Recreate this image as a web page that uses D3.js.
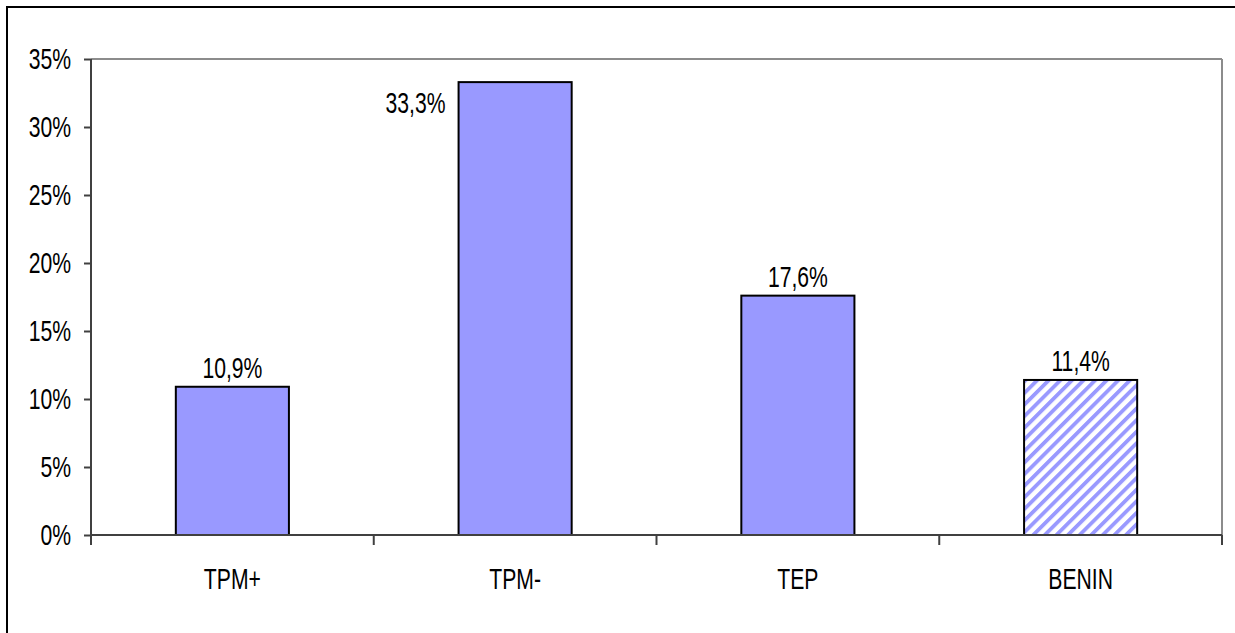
<!DOCTYPE html>
<html>
<head>
<meta charset="utf-8">
<script src="https://cdn.jsdelivr.net/npm/d3@7/dist/d3.min.js"></script>
<style>
  html, body { margin: 0; padding: 0; background: #fff; overflow: hidden; }
  svg text { font-family: "Liberation Sans", Arial, sans-serif; fill: #000; }
</style>
</head>
<body>
<svg id="chart" width="1235" height="633"></svg>
<script>
// Share of each group (percent)
const categories = ["TPM+", "TPM-", "TEP", "BENIN"];
const values = [10.9, 33.3, 17.6, 11.4];
const hatched = [false, false, false, true];
const yTicks = [0, 5, 10, 15, 20, 25, 30, 35];

const W = 1235, H = 633;
const margin = { left: 91, top: 59, right: 1222, bottom: 535 };
const FS = 29;        // label font size
const SX = 0.73;      // horizontal condensing of the labels

const svg = d3.select("#chart");

// outer frame (only left and top edges fall inside the canvas)
svg.append("rect")
  .attr("x", 7).attr("y", 7)
  .attr("width", W + 20).attr("height", H + 20)
  .attr("fill", "#fff").attr("stroke", "#000").attr("stroke-width", 2);

const x = d3.scaleBand().domain(categories)
  .range([margin.left, margin.right]).paddingInner(0.6).paddingOuter(0.3);
const xOuter = d3.scaleBand().domain(categories).range([margin.left, margin.right]);
const y = d3.scaleLinear().domain([0, 35]).range([margin.bottom, margin.top]);

const fmt = v => d3.format(".1f")(v).replace(".", ",") + "%";

// diagonal hatch pattern
const defs = svg.append("defs");
const pat = defs.append("pattern")
  .attr("id", "hatch").attr("patternUnits", "userSpaceOnUse")
  .attr("width", 8.2).attr("height", 8.2)
  .attr("patternTransform", "rotate(45)");
pat.append("rect").attr("width", 8.2).attr("height", 8.2).attr("fill", "#fff");
pat.append("rect").attr("x", 0).attr("width", 3.8).attr("height", 8.2).attr("fill", "#9999ff");

// plot frame lines (top and right)
svg.append("line")
  .attr("x1", margin.left).attr("x2", margin.right)
  .attr("y1", margin.top).attr("y2", margin.top)
  .attr("stroke", "#8c8c8c").attr("stroke-width", 2);
svg.append("line")
  .attr("x1", margin.right).attr("x2", margin.right)
  .attr("y1", margin.top).attr("y2", margin.bottom)
  .attr("stroke", "#8c8c8c").attr("stroke-width", 2);

// bars
svg.selectAll("rect.bar").data(categories).enter().append("rect")
  .attr("class", "bar")
  .attr("x", d => x(d))
  .attr("width", x.bandwidth())
  .attr("y", (d, i) => y(values[i]))
  .attr("height", (d, i) => y(0) - y(values[i]))
  .attr("fill", (d, i) => hatched[i] ? "url(#hatch)" : "#9999ff")
  .attr("stroke", "#000").attr("stroke-width", 2);

// y axis
const yAxis = svg.append("g")
  .attr("transform", `translate(${margin.left},0)`)
  .call(d3.axisLeft(y).tickValues(yTicks).tickSize(7).tickPadding(13)
    .tickFormat(d => d + "%"));
yAxis.select(".domain").attr("stroke", "#404040").attr("stroke-width", 2)
  .attr("d", `M0,${margin.top}V${margin.bottom + 10}`);
yAxis.selectAll(".tick line").attr("stroke", "#404040").attr("stroke-width", 2);
yAxis.selectAll(".tick text")
  .attr("font-size", FS)
  .attr("font-family", '"Liberation Sans", Arial, sans-serif')
  .attr("x", -20 / SX)
  .attr("dy", "0.34em")
  .attr("transform", `scale(${SX},1)`);

// x axis
const xAxis = svg.append("g")
  .attr("transform", `translate(0,${margin.bottom})`)
  .call(d3.axisBottom(xOuter).tickSize(0).tickPadding(33));
xAxis.select(".domain").attr("stroke", "#404040").attr("stroke-width", 2)
  .attr("d", `M${margin.left},0H${margin.right}`);
xAxis.selectAll(".tick text")
  .attr("font-size", FS)
  .attr("font-family", '"Liberation Sans", Arial, sans-serif')
  .attr("transform", `scale(${SX},1)`);
// category separators
svg.append("g").selectAll("line.sep").data(categories).enter().append("line")
  .attr("x1", d => xOuter(d) + xOuter.bandwidth())
  .attr("x2", d => xOuter(d) + xOuter.bandwidth())
  .attr("y1", margin.bottom).attr("y2", margin.bottom + 10)
  .attr("stroke", "#404040").attr("stroke-width", 2);

// value labels (the tallest bar carries its label at its left side)
svg.selectAll("text.val").data(categories).enter().append("text")
  .attr("class", "val")
  .attr("font-size", FS)
  .attr("text-anchor", (d, i) => values[i] > 30 ? "end" : "middle")
  .attr("transform", (d, i) => {
    const tx = values[i] > 30 ? x(d) - 13 : x(d) + x.bandwidth() / 2;
    const ty = values[i] > 30 ? y(values[i]) + 31 : y(values[i]) - 9;
    return `translate(${tx},${ty}) scale(${SX},1)`;
  })
  .text((d, i) => fmt(values[i]));
</script>
</body>
</html>
